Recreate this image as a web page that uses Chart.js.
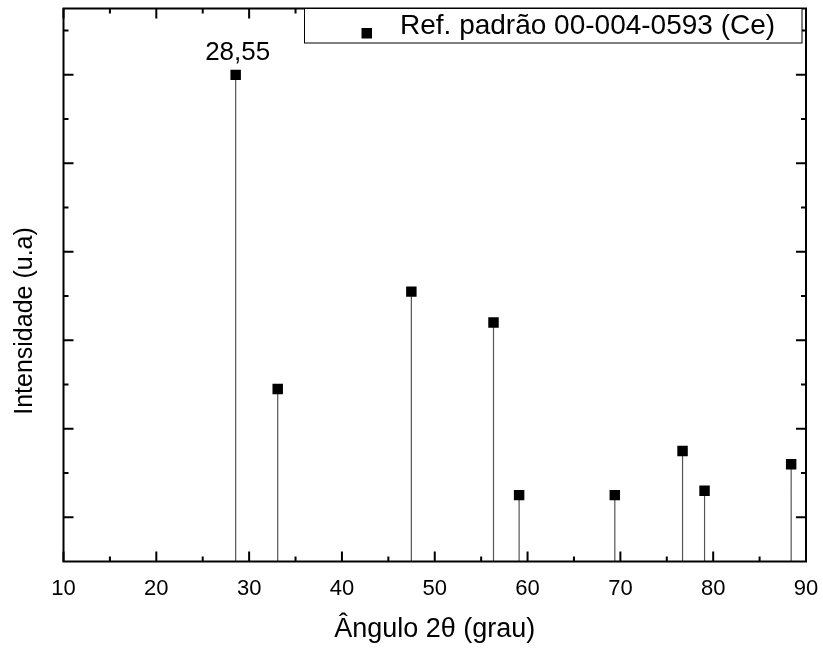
<!DOCTYPE html>
<html>
<head>
<meta charset="utf-8">
<title>DRX - Ce</title>
<script src="https://cdn.jsdelivr.net/npm/chart.js@4.4.0/dist/chart.umd.min.js"></script>
<style>
  body { margin: 0; background: #fff; }
  #wrap { width: 823px; height: 652px; }
</style>
</head>
<body>
<div id="wrap"><canvas id="myChart" width="823" height="652"></canvas></div>
<script>
// reference peaks (2θ in degrees, relative intensity)
const angles = [28.55, 33.08, 47.48, 56.33, 59.09, 69.4, 76.7, 79.07, 88.4];
const intensities = [100, 29, 51, 44, 5, 5, 15, 6, 12];
const seriesName = "Ref. padrão 00-004-0593 (Ce)";
const xTitle = "Ângulo 2θ (grau)";
const yTitle = "Intensidade (u.a)";
const xMin = 10, xMax = 90, xStep = 10;
const yMin = -10, yMax = 115;

const fontFamily = "'Liberation Sans', Arial, Helvetica, sans-serif";

const points = angles.map((a, i) => ({ x: a, y: intensities[i] }));

// drop lines: one segment per peak, split by null gaps
const stems = [];
angles.forEach((a, i) => {
    stems.push({ x: a, y: yMin }, { x: a, y: intensities[i] }, { x: a, y: null });
});

// box frame with inward major/minor ticks on all four sides
const frameTicks = {
    id: 'frameTicks',
    afterDatasetsDraw(chart) {
        const { ctx, chartArea: a, scales: { x, y } } = chart;
        ctx.save();
        ctx.strokeStyle = '#000';
        ctx.lineWidth = 2;
        ctx.beginPath();
        for (let v = xMin; v <= xMax; v += xStep / 2) {
            const px = x.getPixelForValue(v);
            const len = v % xStep === 0 ? 10 : 5;
            ctx.moveTo(px, a.bottom); ctx.lineTo(px, a.bottom - len);
            ctx.moveTo(px, a.top); ctx.lineTo(px, a.top + len);
        }
        for (let v = 0; v <= 110; v += 10) {
            const py = y.getPixelForValue(v);
            const len = v % 20 === 0 ? 10 : 5;
            ctx.moveTo(a.left, py); ctx.lineTo(a.left + len, py);
            ctx.moveTo(a.right, py); ctx.lineTo(a.right - len, py);
        }
        ctx.stroke();
        ctx.strokeRect(a.left, a.top, a.right - a.left, a.bottom - a.top);
        ctx.restore();
    }
};

// value label on the strongest peak, legend box, y title
const annotations = {
    id: 'annotations',
    afterDraw(chart) {
        const { ctx } = chart;
        const meta = chart.getDatasetMeta(0);
        const top = intensities.indexOf(Math.max(...intensities));
        const pt = meta.data[top];
        ctx.save();
        ctx.fillStyle = '#000';
        ctx.font = '26px ' + fontFamily;
        ctx.textAlign = 'center';
        ctx.textBaseline = 'alphabetic';
        ctx.fillText(angles[top].toFixed(2).replace('.', ','), pt.x + 2, pt.y - 15);

        // legend
        ctx.fillStyle = '#fff';
        ctx.fillRect(304.5, 8.5, 497.5, 34.5);
        ctx.strokeStyle = '#000';
        ctx.lineWidth = 1;
        ctx.strokeRect(304.5, 8.5, 497.5, 34.5);
        ctx.fillStyle = '#000';
        ctx.fillRect(361.5, 28, 10.5, 10.5);
        ctx.font = '28px ' + fontFamily;
        ctx.textAlign = 'left';
        ctx.fillText(chart.data.datasets[0].label, 400, 33.5);

        // y axis title
        ctx.translate(32, 321);
        ctx.rotate(-Math.PI / 2);
        ctx.font = '25px ' + fontFamily;
        ctx.textAlign = 'center';
        ctx.fillText(yTitle, 0, 0);
        ctx.restore();
    }
};

new Chart("myChart", {
    type: "scatter",
    data: {
        datasets: [{
            label: seriesName,
            data: points,
            pointStyle: 'rect',
            pointRadius: 7.4,
            pointHoverRadius: 7.4,
            pointBorderWidth: 0,
            backgroundColor: '#000',
            borderColor: '#000',
            order: 1
        }, {
            label: 'drop',
            type: 'line',
            data: stems,
            showLine: true,
            spanGaps: false,
            pointRadius: 0,
            borderColor: '#555',
            borderWidth: 1.2,
            order: 2
        }]
    },
    options: {
        responsive: false,
        animation: false,
        layout: { padding: { top: 8.5, right: 17, left: 0, bottom: 0 } },
        plugins: {
            legend: { display: false },
            tooltip: { enabled: false }
        },
        scales: {
            x: {
                type: 'linear',
                min: xMin,
                max: xMax,
                afterFit: (s) => {
                    s.height = 90.5;
                    s.paddingLeft = 0;
                    s.paddingRight = 0;
                },
                grid: { display: false, drawTicks: false },
                border: { display: false },
                ticks: {
                    stepSize: xStep,
                    padding: 14,
                    color: '#000',
                    font: { family: fontFamily, size: 22 }
                },
                title: {
                    display: true,
                    text: xTitle,
                    color: '#000',
                    font: { family: fontFamily, size: 27 },
                    padding: { top: 0, bottom: 6 }
                }
            },
            y: {
                min: yMin,
                max: yMax,
                afterFit: (s) => { s.width = 63.5; },
                grid: { display: false, drawTicks: false },
                border: { display: false },
                ticks: { display: false }
            }
        }
    },
    plugins: [frameTicks, annotations]
});
</script>
</body>
</html>
